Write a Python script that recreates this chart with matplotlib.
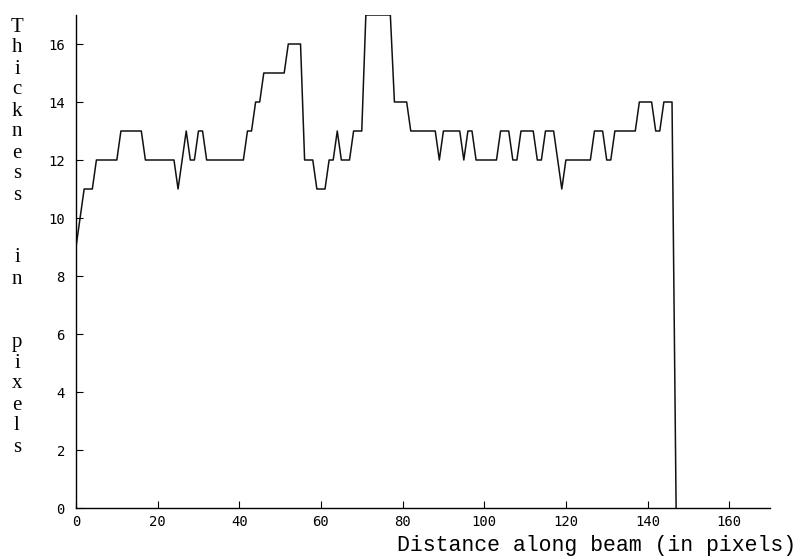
import numpy as np
import matplotlib
matplotlib.use("Agg")
import matplotlib.pyplot as plt

# espessura medida ao longo da viga (uma amostra por pixel)
thickness = ([9, 10, 11, 11, 11] + [12] * 6 + [13] * 6 + [12] * 8 +
             [11, 12, 13, 12, 12, 13, 13] + [12] * 10 + [13, 13, 14, 14] +
             [15] * 6 + [16] * 4 + [12] * 3 + [11] * 3 + [12, 12, 13] +
             [12] * 3 + [13] * 3 + [17] * 7 + [14] * 4 + [13] * 7 + [12] +
             [13] * 5 + [12, 13, 13] + [12] * 6 + [13] * 3 + [12, 12] +
             [13] * 4 + [12, 12] + [13] * 3 + [12, 11] + [12] * 7 +
             [13] * 3 + [12, 12] + [13] * 6 + [14] * 4 + [13, 13] +
             [14] * 3 + [0])
distance = np.arange(len(thickness))

x_ticks = [0, 20, 40, 60, 80, 100, 120, 140, 160]
y_ticks = [0, 2, 4, 6, 8, 10, 12, 14, 16]
ylabel_letters = "Thickness  in  pixels"
xlabel_text = "Distance along beam (in pixels)"

fig = plt.figure(figsize=(7.97, 5.59), dpi=100)
ax = fig.add_axes([76 / 797, 51 / 559, 694 / 797, 493 / 559])

ax.plot(distance, thickness, color="#111111", linewidth=1.1)

ax.set_xlim(0, 170)
ax.set_ylim(0, 17)
ax.set_xticks(x_ticks)
ax.set_yticks(y_ticks)
ax.tick_params(direction="in", length=5, width=0.8, labelsize=10)
ax.tick_params(axis="x", pad=5)
ax.tick_params(axis="y", pad=8)
for lab in ax.get_xticklabels() + ax.get_yticklabels():
    lab.set_family("DejaVu Sans Mono")
for s in ["top", "right"]:
    ax.spines[s].set_visible(False)
for s in ["left", "bottom"]:
    ax.spines[s].set_linewidth(1.0)

# rotulo do eixo y: uma letra por linha
y0 = 27
for i, ch in enumerate(ylabel_letters):
    if ch == " ":
        continue
    fig.text(17 / 797, 1 - (y0 + i * 21) / 559, ch, family="Liberation Serif",
             fontsize=15, ha="center", va="center")

fig.text(796 / 797, 1 - 545 / 559, xlabel_text, family="Liberation Mono",
         fontsize=15.5, ha="right", va="center")

fig.savefig("out.png", dpi=100)
